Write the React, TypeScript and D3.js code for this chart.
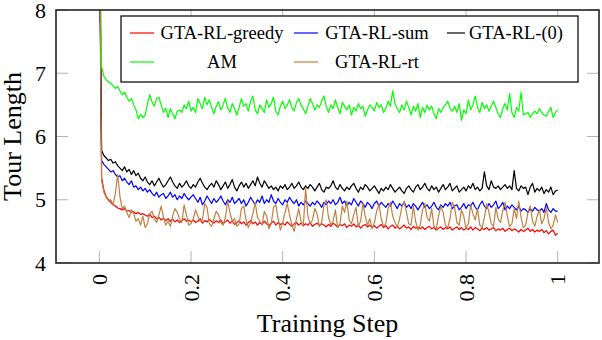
import React from 'react';
import * as d3 from 'd3';

// training step grid (201 samples on [0, 1])
const steps = d3.range(0, 201).map(i => i / 200);

const xTicks = [0, 0.2, 0.4, 0.6, 0.8, 1];
const xTickLabels = ['0', '0.2', '0.4', '0.6', '0.8', '1'];
const yTicks = [4, 5, 6, 7, 8];

// values
const greedy = [
  9.6, 5.35, 5.15, 5.05, 5.0, 4.96, 4.92, 4.9, 4.87, 4.86,
  4.84, 4.86, 4.82, 4.83, 4.8, 4.81, 4.78, 4.8, 4.77, 4.78,
  4.76, 4.74, 4.77, 4.72, 4.74, 4.7, 4.72, 4.68, 4.71, 4.67,
  4.7, 4.66, 4.69, 4.65, 4.68, 4.64, 4.67, 4.7, 4.66, 4.68,
  4.65, 4.68, 4.64, 4.66, 4.7, 4.63, 4.67, 4.65, 4.69, 4.66,
  4.63, 4.67, 4.64, 4.68, 4.62, 4.65, 4.68, 4.63, 4.66, 4.61,
  4.64, 4.67, 4.62, 4.65, 4.6, 4.64, 4.67, 4.62, 4.65, 4.6,
  4.64, 4.61, 4.66, 4.62, 4.59, 4.63, 4.66, 4.6, 4.64, 4.61,
  4.63, 4.6, 4.65, 4.61, 4.58, 4.62, 4.64, 4.6, 4.63, 4.59,
  4.62, 4.6, 4.64, 4.58, 4.61, 4.63, 4.59, 4.62, 4.6, 4.57,
  4.61, 4.58, 4.63, 4.6, 4.57, 4.61, 4.59, 4.62, 4.56, 4.6,
  4.58, 4.62, 4.57, 4.6, 4.55, 4.59, 4.61, 4.57, 4.6, 4.56,
  4.59, 4.55, 4.58, 4.61, 4.56, 4.59, 4.54, 4.58, 4.6, 4.55,
  4.58, 4.54, 4.57, 4.6, 4.55, 4.57, 4.53, 4.58, 4.55, 4.57,
  4.54, 4.57, 4.53, 4.56, 4.58, 4.54, 4.56, 4.52, 4.55, 4.57,
  4.53, 4.56, 4.54, 4.57, 4.52, 4.55, 4.57, 4.53, 4.56, 4.52,
  4.55, 4.53, 4.57, 4.52, 4.56, 4.54, 4.51, 4.55, 4.53, 4.56,
  4.52, 4.54, 4.56, 4.51, 4.54, 4.52, 4.55, 4.5, 4.53, 4.55,
  4.51, 4.54, 4.52, 4.49, 4.53, 4.5, 4.52, 4.55, 4.5, 4.53,
  4.49, 4.52, 4.5, 4.53, 4.48, 4.51, 4.46, 4.5, 4.52, 4.44,
  4.47,
];

const sum = [
  9.6, 5.62, 5.56, 5.52, 5.48, 5.44, 5.46, 5.4, 5.36, 5.38,
  5.3, 5.34, 5.28, 5.24, 5.3, 5.2, 5.22, 5.16, 5.2, 5.14,
  5.18, 5.12, 5.16, 5.1, 5.06, 5.12, 5.04, 5.08, 5.1, 5.02,
  5.06, 5.12, 5.04, 5.08, 5.0, 5.06, 5.02, 5.1, 5.04, 5.0,
  5.04, 5.08, 5.02, 4.96, 5.04, 4.92, 4.98, 5.06, 5.0, 4.94,
  5.02, 4.96, 5.0, 5.06, 4.98, 4.92, 5.0, 4.96, 5.04, 4.94,
  4.98, 5.02, 4.94, 5.0, 4.9, 4.96, 5.04, 4.98, 4.92, 5.0,
  4.96, 5.06, 4.94, 5.0, 4.96, 5.08, 4.98, 4.94, 5.02, 4.96,
  4.92, 5.0, 4.96, 5.04, 4.98, 4.94, 5.0, 4.9, 4.96, 4.92,
  4.98, 4.94, 4.9, 4.96, 4.92, 4.98, 4.94, 4.88, 4.96, 4.92,
  4.98, 4.94, 5.0, 4.92, 4.96, 5.04, 4.94, 4.98, 4.9, 4.96,
  4.92, 5.02, 4.96, 4.9, 4.98, 4.94, 4.88, 4.96, 4.92, 4.86,
  4.94, 4.98, 4.9, 4.96, 4.92, 4.88, 4.94, 4.9, 4.98, 4.92,
  4.86, 4.94, 4.9, 4.96, 4.88, 4.92, 4.86, 4.94, 4.9, 4.84,
  4.9, 4.96, 4.88, 4.92, 4.86, 4.9, 4.96, 4.88, 4.84, 4.92,
  4.88, 4.94, 4.9, 4.96, 4.86, 4.9, 4.92, 4.84, 4.88, 4.94,
  4.86, 4.92, 4.9, 4.96, 4.88, 4.84, 4.92, 4.98, 4.9, 4.86,
  4.94, 4.88, 4.92, 4.98, 4.86, 4.9, 4.96, 4.84, 4.9, 4.86,
  4.92, 4.88, 4.84, 4.9, 4.82, 4.86, 4.84, 4.8, 4.86, 4.82,
  4.88, 4.84, 4.82, 4.86, 4.8, 4.94, 4.84, 4.8, 4.86, 4.82,
  4.82,
];

const zero = [
  9.6, 5.78, 5.7, 5.66, 5.62, 5.64, 5.58, 5.6, 5.54, 5.5,
  5.46, 5.52, 5.44, 5.48, 5.4, 5.46, 5.38, 5.42, 5.34, 5.3,
  5.36, 5.28, 5.24, 5.3, 5.22, 5.28, 5.34, 5.26, 5.2, 5.24,
  5.3, 5.36, 5.28, 5.22, 5.18, 5.26, 5.2, 5.24, 5.3, 5.22,
  5.18, 5.24, 5.2, 5.28, 5.34, 5.26, 5.2, 5.16, 5.22, 5.26,
  5.2, 5.3, 5.24, 5.16, 5.22, 5.28, 5.18, 5.24, 5.32, 5.2,
  5.14, 5.22, 5.28, 5.2, 5.26, 5.18, 5.24, 5.3, 5.22, 5.36,
  5.26, 5.2, 5.3, 5.24, 5.18, 5.22, 5.16, 5.2, 5.14, 5.22,
  5.18, 5.24, 5.16, 5.2, 5.26, 5.18, 5.22, 5.28, 5.2, 5.16,
  5.22, 5.18, 5.24, 5.2, 5.14, 5.2, 5.26, 5.16, 5.12, 5.2,
  5.18, 5.22, 5.3, 5.2, 5.16, 5.24, 5.18, 5.14, 5.2, 5.16,
  5.22, 5.26, 5.18, 5.12, 5.2, 5.16, 5.24, 5.2, 5.14, 5.18,
  5.22, 5.16, 5.1, 5.18, 5.14, 5.2, 5.16, 5.24, 5.18, 5.12,
  5.16, 5.2, 5.14, 5.1, 5.18, 5.22, 5.16, 5.12, 5.2, 5.24,
  5.16, 5.2, 5.26, 5.18, 5.14, 5.22, 5.16, 5.2, 5.12, 5.18,
  5.24, 5.16, 5.2, 5.26, 5.14, 5.18, 5.22, 5.12, 5.16, 5.2,
  5.14, 5.22, 5.18, 5.26, 5.16, 5.2, 5.14, 5.18, 5.44, 5.22,
  5.16, 5.3, 5.2, 5.18, 5.22, 5.16, 5.2, 5.24, 5.18, 5.22,
  5.16, 5.46, 5.18, 5.14, 5.22, 5.18, 5.2, 5.08, 5.2, 5.26,
  5.12, 5.18, 5.14, 5.2, 5.1, 5.16, 5.12, 5.2, 5.08, 5.14,
  5.15,
];

const am = [
  9.6, 7.1, 6.95, 6.9, 6.86, 6.84, 6.8, 6.76, 6.79, 6.72,
  6.66, 6.7, 6.62, 6.56, 6.6, 6.5, 6.42, 6.28, 6.35, 6.3,
  6.34, 6.52, 6.66, 6.55, 6.48, 6.6, 6.62, 6.5, 6.38, 6.45,
  6.3, 6.44, 6.36, 6.28, 6.4, 6.42, 6.38, 6.5, 6.44, 6.56,
  6.4, 6.46, 6.38, 6.6, 6.52, 6.44, 6.62, 6.5, 6.58, 6.46,
  6.36, 6.48, 6.55, 6.42, 6.5, 6.6, 6.45, 6.38, 6.52, 6.44,
  6.34, 6.46, 6.6, 6.48, 6.52, 6.4, 6.56, 6.64, 6.42, 6.36,
  6.5, 6.44, 6.38, 6.58, 6.46, 6.52, 6.62, 6.4, 6.34, 6.48,
  6.56, 6.44, 6.5, 6.58, 6.46, 6.4, 6.54, 6.6, 6.5, 6.44,
  6.36, 6.48, 6.6, 6.52, 6.42, 6.5, 6.46, 6.56, 6.64, 6.48,
  6.38, 6.5, 6.44, 6.58, 6.46, 6.36, 6.54, 6.48, 6.42, 6.5,
  6.34, 6.46, 6.4, 6.52, 6.44, 6.48, 6.32, 6.42, 6.5, 6.46,
  6.4, 6.54, 6.46, 6.5, 6.38, 6.44, 6.56, 6.48, 6.72, 6.52,
  6.44, 6.38, 6.5, 6.42, 6.56, 6.46, 6.34, 6.48, 6.4, 6.52,
  6.3, 6.46, 6.38, 6.5, 6.42, 6.48, 6.36, 6.28, 6.44, 6.38,
  6.46, 6.5, 6.56, 6.44, 6.4, 6.48, 6.38, 6.52, 6.26, 6.42,
  6.36, 6.58, 6.42, 6.5, 6.64, 6.46, 6.38, 6.54, 6.44, 6.5,
  6.4, 6.48, 6.56, 6.46, 6.36, 6.3, 6.44, 6.52, 6.42, 6.68,
  6.38, 6.3, 6.46, 6.4, 6.7, 6.34, 6.36, 6.38, 6.3, 6.36,
  6.4, 6.36, 6.44, 6.38, 6.34, 6.32, 6.4, 6.46, 6.3, 6.38,
  6.42,
];

const rt = [
  9.6, 5.3, 5.12, 5.04, 4.98, 5.0, 4.92, 5.1, 5.4, 5.05,
  4.86, 4.9, 4.8, 4.72, 4.84, 4.78, 4.66, 4.7, 4.6, 4.74,
  4.56, 4.62, 4.78, 4.82, 4.7, 4.64, 4.76, 4.9, 4.72, 4.6,
  4.66, 4.58, 4.74, 4.86, 4.8, 4.7, 4.64, 4.92, 4.76, 4.6,
  4.62, 4.7, 4.84, 4.74, 4.66, 4.68, 4.94, 4.88, 4.62, 4.58,
  4.7, 4.82, 4.76, 4.64, 4.6, 4.72, 4.98, 4.8, 4.66, 4.7,
  4.58, 4.62, 4.86, 4.9, 4.68, 4.56, 4.64, 4.78, 4.96, 4.72,
  4.66, 4.6, 4.82, 4.74, 4.54, 4.62, 4.88, 4.92, 4.7, 4.52,
  4.64, 4.8, 4.94, 4.76, 4.6, 4.5, 4.7, 4.86, 4.66, 4.58,
  5.18, 4.74, 4.62, 4.68, 4.86, 4.78, 4.58, 4.64, 4.92, 5.0,
  4.72, 4.6, 4.66, 4.84, 4.56, 4.62, 4.9, 4.8, 4.98, 4.68,
  4.62, 4.76, 4.88, 4.58, 4.66, 4.94, 4.74, 4.6, 4.7, 4.54,
  4.64, 4.82, 4.92, 4.7, 4.58, 4.62, 4.86, 4.96, 4.74, 4.64,
  4.56, 4.7, 4.88, 4.98, 4.8, 4.62, 4.6, 4.9, 4.66, 4.52,
  4.6, 4.84, 4.94, 4.72, 4.66, 4.86, 4.58, 4.54, 4.74, 4.9,
  4.8, 4.6, 4.56, 4.7, 4.96, 4.88, 4.64, 4.6, 4.84, 4.74,
  4.54, 4.62, 4.92, 4.78, 4.68, 4.86, 4.6, 4.56, 4.72, 4.94,
  4.8, 4.62, 4.58, 4.88, 4.7, 4.64, 4.82, 4.96, 4.74, 4.58,
  4.62, 4.86, 4.7, 4.98, 4.72, 4.56, 4.6, 4.8, 4.9, 4.66,
  4.58, 4.74, 4.84, 4.62, 4.7, 4.88, 4.64, 4.54, 4.6, 4.76,
  4.64,
];

const series = [
  { name: 'GTA-RL-greedy', color: '#ff0000', values: greedy },
  { name: 'GTA-RL-sum', color: '#0000ff', values: sum },
  { name: 'GTA-RL-(0)', color: '#000000', values: zero },
  { name: 'AM', color: '#00ff00', values: am },
  { name: 'GTA-RL-rt', color: '#bf8040', values: rt },
];

const W = 602;
const H = 340;
const left = 56, right = 599, top = 10, bottom = 263;
const font = "'Liberation Serif', 'Times New Roman', Times, 'DejaVu Serif', serif";

export default function App() {
  const x = d3.scaleLinear().domain([-0.0945, 1.09]).range([left, right]);
  const y = d3.scaleLinear().domain([4, 8]).range([bottom, top]);

  const line = d3.line<number>()
    .x((_, i) => x(steps[i]))
    .y(d => y(d));

  const tickLen = 12;
  const tickColor = '#b4b4b4';

  // legend: 3 columns, 2 rows
  const colX = [130, 294, 447];
  const colCenter = [222, 377, 516];
  const rowY = [33, 62];

  return (
    <div style={{ position: 'absolute', left: 0, top: 0 }}>
      <svg width={W} height={H} style={{ display: 'block', background: '#fff', fontFamily: font }}>
        <defs>
          <clipPath id="plot">
            <rect x={left} y={top} width={right - left} height={bottom - top} />
          </clipPath>
        </defs>

        {/* ticks */}
        {xTicks.map(t => (
          <g key={'xt' + t} stroke={tickColor} strokeWidth={1}>
            <line x1={x(t)} x2={x(t)} y1={bottom} y2={bottom - tickLen} />
            <line x1={x(t)} x2={x(t)} y1={top} y2={top + tickLen} />
          </g>
        ))}
        {yTicks.map(t => (
          <g key={'yt' + t} stroke={tickColor} strokeWidth={1}>
            <line x1={left} x2={left + tickLen} y1={y(t)} y2={y(t)} />
            <line x1={right} x2={right - tickLen} y1={y(t)} y2={y(t)} />
          </g>
        ))}

        {/* series */}
        <g clipPath="url(#plot)">
          {series.map(s => (
            <path key={s.name} d={line(s.values) || ''} fill="none" stroke={s.color}
              strokeWidth={1.2} strokeLinejoin="round" />
          ))}
        </g>

        {/* frame */}
        <rect x={left} y={top} width={right - left} height={bottom - top}
          fill="none" stroke="#222" strokeWidth={1.6} />

        {/* tick labels */}
        {yTicks.map(t => (
          <text key={'yl' + t} x={46} y={y(t)} dy="0.35em" textAnchor="end"
            fontSize={22}>{t}</text>
        ))}
        {xTicks.map((t, i) => (
          <text key={'xl' + t} transform={`translate(${x(t)},274) rotate(-90)`}
            dy="0.35em" textAnchor="end" fontSize={22}>{xTickLabels[i]}</text>
        ))}

        {/* axis titles */}
        <text x={(left + right) / 2} y={332} textAnchor="middle" fontSize={26}>
          Training Step
        </text>
        <text transform={`translate(21,${(top + bottom) / 2}) rotate(-90)`} textAnchor="middle"
          fontSize={26}>
          Tour Length
        </text>

        {/* legend */}
        <rect x={121} y={16} width={457} height={66} fill="#fff" stroke="#111" strokeWidth={1.3} />
        {series.map((s, i) => {
          const c = i % 3;
          const r = Math.floor(i / 3);
          const len = c === 2 ? 18 : 24;
          return (
            <g key={'lg' + s.name}>
              <line x1={colX[c]} x2={colX[c] + len} y1={rowY[r]} y2={rowY[r]}
                stroke={s.color} strokeWidth={1.2} />
              <text x={colCenter[c]} y={rowY[r]} dy="0.33em" textAnchor="middle"
                fontSize={18.5}>{s.name}</text>
            </g>
          );
        })}
      </svg>
    </div>
  );
}
